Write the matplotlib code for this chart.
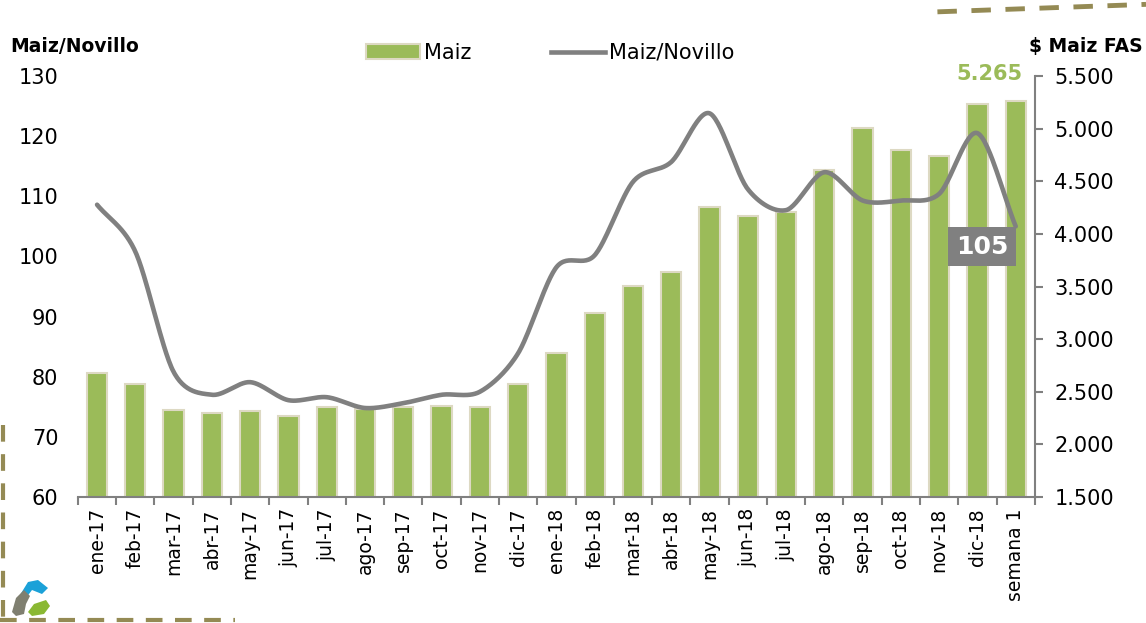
import numpy as np
import matplotlib
matplotlib.use("Agg")
import matplotlib.pyplot as plt
from matplotlib.lines import Line2D
from matplotlib.patches import Patch, Polygon

plt.rcParams['font.family'] = ['DejaVu Sans']

categories = ["ene-17", "feb-17", "mar-17", "abr-17", "may-17", "jun-17", "jul-17",
              "ago-17", "sep-17", "oct-17", "nov-17", "dic-17", "ene-18", "feb-18",
              "mar-18", "abr-18", "may-18", "jun-18", "jul-18", "ago-18", "sep-18",
              "oct-18", "nov-18", "dic-18", "semana 1"]
maiz_fas = [2678, 2574, 2327, 2298, 2317, 2270, 2355, 2340, 2355, 2365, 2355, 2574,
            2868, 3248, 3505, 3638, 4255, 4170, 4208, 4607, 5006, 4797, 4740, 5234, 5265]
maiz_novillo = [108.6, 100.8, 80.8, 77.0, 79.1, 76.1, 76.6, 74.8, 75.6, 77.0, 77.5, 83.9,
                98.2, 100.2, 112.4, 115.7, 123.8, 111.2, 107.7, 114.0, 109.3, 109.3, 110.4,
                120.5, 105.0]
left_ticks = [60, 70, 80, 90, 100, 110, 120, 130]
right_ticks = [1500, 2000, 2500, 3000, 3500, 4000, 4500, 5000, 5500]
right_labels = ["1.500", "2.000", "2.500", "3.000", "3.500", "4.000", "4.500", "5.000", "5.500"]

GREEN = "#9BBB59"
EDGE = "#DDD9C3"
GRAY = "#808080"
OLIVE = "#948A54"


def smooth(x, y, n=30):
    x = np.asarray(x, float)
    y = np.asarray(y, float)
    px = np.concatenate([[2 * x[0] - x[1]], x, [2 * x[-1] - x[-2]]])
    py = np.concatenate([[2 * y[0] - y[1]], y, [2 * y[-1] - y[-2]]])
    xs, ys = [], []
    for i in range(1, len(px) - 2):
        t = np.linspace(0, 1, n, endpoint=False)
        m1x = (px[i + 1] - px[i - 1]) / 2 * 0.9
        m2x = (px[i + 2] - px[i]) / 2 * 0.9
        m1y = (py[i + 1] - py[i - 1]) / 2 * 0.9
        m2y = (py[i + 2] - py[i]) / 2 * 0.9
        h00 = 2 * t**3 - 3 * t**2 + 1
        h10 = t**3 - 2 * t**2 + t
        h01 = -2 * t**3 + 3 * t**2
        h11 = t**3 - t**2
        xs.append(h00 * px[i] + h10 * m1x + h01 * px[i + 1] + h11 * m2x)
        ys.append(h00 * py[i] + h10 * m1y + h01 * py[i + 1] + h11 * m2y)
    xs.append([x[-1]])
    ys.append([y[-1]])
    return np.concatenate(xs), np.concatenate(ys)


fig = plt.figure(figsize=(11.46, 6.23), dpi=100)
ax = fig.add_axes([0.068, 0.2022, 0.835, 0.6758])
ax2 = ax.twinx()

x = np.arange(len(categories))
# bars on right axis
ax2.bar(x, maiz_fas, width=0.53, color=GREEN, edgecolor=EDGE, linewidth=1.5, zorder=2)
ax2.set_ylim(1500, 5500)
ax2.set_yticks(right_ticks)
ax2.set_yticklabels(right_labels, fontsize=15)

# line on left axis, drawn on top
ax.set_zorder(ax2.get_zorder() + 1)
ax.patch.set_visible(False)
sx, sy = smooth(x, maiz_novillo)
ax.plot(sx, sy, color=GRAY, linewidth=3.3, solid_capstyle='round', zorder=3)
ax.set_ylim(60, 130)
ax.set_yticks(left_ticks)
ax.set_yticklabels([str(v) for v in left_ticks], fontsize=15)
ax.set_xlim(-0.5, len(categories) - 0.5)
ax.set_xticks(x)
ax.set_xticklabels(categories, rotation=90, fontsize=13.5)
ax.set_xticks(np.arange(len(categories) + 1) - 0.5, minor=True)
ax.tick_params(axis='x', which='major', length=0, pad=8)
ax.tick_params(axis='x', which='minor', length=6, color=GRAY, width=1.5)
ax.tick_params(axis='y', length=0, pad=14)
ax2.tick_params(axis='y', length=6, color=GRAY, width=1.5, pad=8)

for a in (ax, ax2):
    for s in ('top', 'left'):
        a.spines[s].set_visible(False)
ax.spines['right'].set_visible(False)
ax2.spines['right'].set_color(GRAY)
ax2.spines['right'].set_linewidth(1.5)
ax2.spines['bottom'].set_visible(False)
ax.spines['bottom'].set_color(GRAY)
ax.spines['bottom'].set_linewidth(1.5)

# labels
ax2.text(x[-1] - 0.68, maiz_fas[-1] + 160, "5.265", color=GREEN, fontsize=15,
         fontweight='bold', ha='center', va='bottom', zorder=5)
ax.text(x[-1] - 0.88, maiz_novillo[-1] - 3.4, "105", color='white', fontsize=18,
        fontweight='bold', ha='center', va='center', zorder=5,
        bbox=dict(boxstyle='square,pad=0.3', fc=GRAY, ec='none'))

fig.text(0.009, 0.925, "Maiz/Novillo", fontsize=13.5, fontweight='bold', ha='left', va='center')
fig.text(0.997, 0.925, "$ Maiz FAS", fontsize=13.5, fontweight='bold', ha='right', va='center')

handles = [Patch(facecolor=GREEN, edgecolor=EDGE, linewidth=1.5),
           Line2D([0], [0], color=GRAY, linewidth=3.3)]
fig.legend(handles, ["Maiz", "Maiz/Novillo"], loc='center', bbox_to_anchor=(0.48, 0.915),
           ncol=2, frameon=False, fontsize=15, handlelength=2.6, handletextpad=0.2,
           columnspacing=3.8)

# decorative dashed frame pieces
fig.add_artist(Line2D([0.818, 1.0], [0.981, 0.993], color=OLIVE, linewidth=3.5,
                      linestyle=(0, (4, 3)), transform=fig.transFigure))
fig.add_artist(Line2D([0.003, 0.003], [0.318, 0.0], color=OLIVE, linewidth=3,
                      linestyle=(0, (4, 3)), transform=fig.transFigure))
fig.add_artist(Line2D([0.0, 0.205], [0.005, 0.005], color=OLIVE, linewidth=3,
                      linestyle=(0, (4, 3)), transform=fig.transFigure))

# small logo approximation
W, H = 1146.0, 623.0
def pg(pts, c):
    fig.add_artist(Polygon([(px / W, 1 - py / H) for px, py in pts], closed=True,
                           fc=c, ec='none', transform=fig.transFigure))
pg([(20, 595), (28, 582), (38, 580), (48, 588), (42, 594), (32, 590), (26, 598)], "#1BA1D8")
pg([(12, 612), (16, 598), (24, 590), (30, 596), (26, 604), (24, 614), (16, 616)], "#7F7F70")
pg([(28, 612), (34, 604), (46, 600), (50, 606), (44, 614), (32, 616)], "#8AB833")

fig.savefig("out.png", dpi=100)
